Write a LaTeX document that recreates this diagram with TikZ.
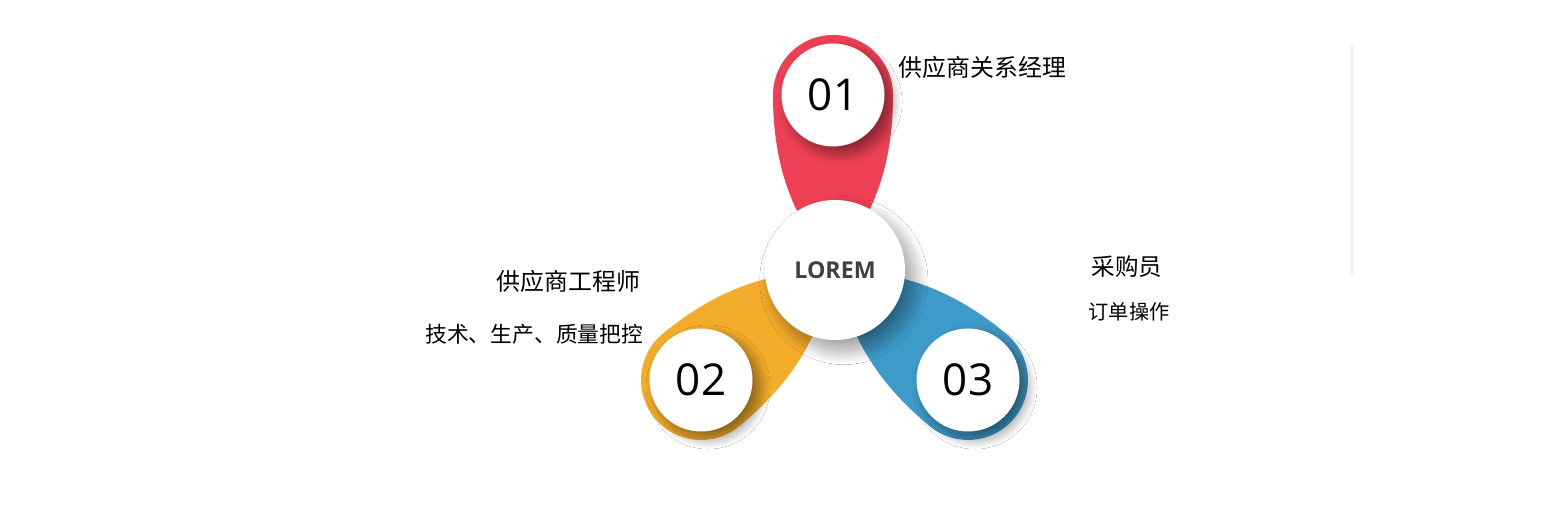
\documentclass[tikz,border=0pt]{standalone}
\usepackage{fontspec}
\setmainfont{Noto Sans CJK SC}
\newfontfamily\numfont{Open Sans}
\usetikzlibrary{shadows.blur}
\definecolor{petalred}{RGB}{238,64,84}
\definecolor{petalorange}{RGB}{242,172,42}
\definecolor{petalblue}{RGB}{62,154,200}
\definecolor{loremgray}{RGB}{64,64,64}
\definecolor{linepink}{RGB}{250,232,232}
\newcommand{\petalpath}{(0.6,0) arc (0:180:0.6) .. controls (-0.6,-0.55) and (-0.48,-0.9) .. (-0.37,-1.14) -- (0,-1.6) -- (0.37,-1.14) .. controls (0.48,-0.9) and (0.6,-0.55) .. (0.6,0) -- cycle}
\begin{document}
\begin{tikzpicture}[
  numcircle/.style={circle, fill=white, minimum size=1.03cm, inner sep=0pt,
    font=\numfont\fontsize{12.5}{14}\selectfont,
    blur shadow={shadow xshift=2pt, shadow yshift=-2pt, shadow blur radius=3pt,
      shadow blur steps=40, shadow opacity=45}},
  hubcircle/.style={circle, fill=white, minimum size=1.40cm, inner sep=0pt, text=loremgray,
    font=\numfont\bfseries\fontsize{6.6}{8}\selectfont,
    blur shadow={shadow xshift=2.5pt, shadow yshift=-3pt, shadow blur radius=4pt,
      shadow blur steps=40, shadow opacity=40}},
  role/.style={font=\fontsize{6.8}{8}\selectfont, inner sep=0pt},
  task/.style={font=\fontsize{6.2}{8}\selectfont, inner sep=0pt}]
  \fill[white] (0,0) rectangle (15.41,5.06);
  \draw[linepink, line width=0.4pt] (13.52,4.61) -- (13.52,2.31);
  \coordinate (c1) at (8.33,4.11);
  \coordinate (c2) at (7.01,1.26);
  \coordinate (c3) at (9.68,1.26);
  \fill[petalred, shift={(c1)}] \petalpath;
  \fill[petalorange, shift={(c2)}, rotate=129.4] \petalpath;
  \fill[petalblue, shift={(c3)}, rotate=230.4] \petalpath;
  \node[numcircle] (n1) at (c1) {01};
  \node[numcircle] (n2) at (c2) {02};
  \node[numcircle] (n3) at (c3) {03};
  \node[hubcircle] (hub) at (8.35,2.36) {LOREM};
  \node[role, anchor=west] (r1) at (8.98,4.39) {供应商关系经理};
  \node[role, anchor=east] (r2) at (6.41,2.25) {供应商工程师};
  \node[task, anchor=east] (t2) at (6.44,1.72) {技术、生产、质量把控};
  \node[role, font=\fontsize{6.7}{8}\selectfont] (r3) at (11.27,2.39) {采购员};
  \node[task, font=\fontsize{5.75}{7}\selectfont] (t3) at (11.29,1.94) {订单操作};
\end{tikzpicture}
\end{document}
